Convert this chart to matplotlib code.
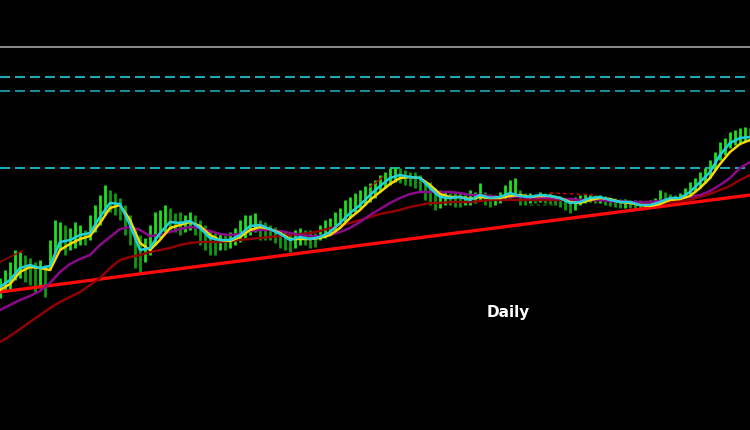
import matplotlib
matplotlib.use("Agg")
import matplotlib.pyplot as plt
import numpy as np

# daily bars, one every 5 px of the original screenshot (bar index 0..150)
bar_high = [152, 160, 168, 180, 178, 175, 172, 168, 170, 165,
            190, 210, 208, 205, 202, 208, 205, 200, 215, 225,
            235, 245, 240, 237, 232, 225, 215, 200, 195, 192,
            205, 218, 220, 225, 222, 217, 218, 215, 218, 215,
            210, 205, 200, 198, 197, 195, 198, 202, 210, 215,
            215, 217, 210, 208, 205, 203, 200, 198, 195, 200,
            202, 200, 200, 197, 205, 210, 212, 218, 222, 230,
            233, 237, 240, 244, 247, 250, 255, 258, 262, 263,
            262, 260, 258, 258, 255, 250, 248, 242, 240, 238,
            237, 238, 237, 235, 240, 238, 247, 238, 236, 235,
            238, 245, 250, 252, 240, 237, 237, 236, 238, 237,
            237, 235, 234, 232, 232, 233, 235, 236, 235, 235,
            235, 234, 232, 232, 231, 231, 230, 230, 230, 229,
            230, 232, 240, 238, 236, 235, 237, 242, 248, 252,
            258, 262, 270, 278, 288, 292, 298, 300, 302, 303,
            302]
bar_low = [132, 138, 140, 150, 152, 148, 145, 138, 142, 133,
           160, 178, 180, 175, 180, 182, 185, 185, 190, 198,
           205, 215, 218, 215, 210, 195, 185, 162, 157, 168,
           175, 185, 192, 198, 200, 198, 195, 198, 200, 195,
           185, 180, 175, 175, 180, 180, 182, 185, 188, 192,
           195, 198, 190, 190, 190, 187, 182, 180, 178, 182,
           185, 185, 182, 183, 190, 192, 195, 198, 202, 208,
           212, 218, 222, 225, 228, 232, 238, 242, 245, 248,
           247, 245, 244, 242, 238, 230, 225, 220, 222, 225,
           225, 223, 223, 225, 225, 227, 230, 225, 223, 225,
           227, 230, 232, 235, 225, 225, 227, 227, 228, 227,
           226, 225, 223, 220, 217, 220, 225, 227, 228, 227,
           227, 225, 224, 223, 222, 222, 222, 221, 220, 221,
           222, 224, 228, 228, 229, 229, 230, 232, 235, 238,
           242, 247, 252, 260, 270, 275, 282, 285, 287, 288,
           288]

# moving averages, sampled every 2 bars
ma_fast = [143, 150, 162, 165, 162, 164, 188, 190, 195, 197,
           213, 227, 226, 205, 180, 182, 197, 208, 207, 209,
           202, 192, 190, 190, 195, 204, 205, 201, 196, 190,
           193, 191, 193, 198, 207, 217, 225, 235, 244, 252,
           255, 253, 252, 242, 233, 232, 233, 230, 235, 232,
           233, 237, 234, 233, 235, 234, 232, 227, 228, 232,
           233, 230, 228, 228, 225, 225, 228, 232, 232, 238,
           248, 258, 275, 287, 292, 293]
ma_slow = [140, 146, 158, 163, 162, 160, 180, 186, 191, 194,
           207, 222, 225, 210, 187, 180, 190, 202, 205, 208,
           204, 195, 190, 189, 193, 200, 203, 201, 197, 191,
           191, 191, 192, 195, 202, 212, 220, 230, 238, 246,
           252, 253, 252, 245, 236, 233, 233, 231, 233, 232,
           232, 234, 235, 233, 234, 234, 232, 228, 227, 230,
           232, 231, 228, 227, 225, 224, 226, 230, 231, 234,
           242, 252, 266, 278, 286, 290]
ma_50 = [120, 125, 130, 134, 139, 147, 158, 166, 171, 175,
         185, 193, 201, 203, 200, 194, 195, 198, 201, 203,
         202, 199, 196, 195, 196, 199, 200, 200, 199, 197,
         195, 194, 194, 195, 198, 202, 208, 215, 221, 227,
         232, 236, 238, 238, 238, 238, 237, 235, 235, 234,
         233, 233, 233, 232, 232, 232, 231, 231, 230, 230,
         230, 229, 229, 228, 228, 228, 229, 231, 232, 233,
         235, 239, 245, 252, 262, 268]
ma_200 = [88, 94, 101, 108, 115, 122, 128, 133, 138, 145,
          152, 162, 170, 173, 175, 178, 180, 182, 185, 187,
          188, 188, 188, 189, 190, 191, 192, 193, 194, 195,
          196, 197, 199, 202, 204, 207, 210, 213, 216, 218,
          220, 223, 225, 227, 227, 228, 228, 228, 229, 230,
          230, 230, 230, 230, 230, 230, 230, 230, 230, 230,
          230, 229, 228, 227, 227, 227, 227, 228, 229, 230,
          233, 236, 240, 244, 250, 255]

# support trendline and horizontal levels
trend_x = [0, 150]
trend_y = [138, 235]
level_solid = 383
levels_dashed = [353, 339, 262]

# stray envelope pieces
env_red_x = [[0, 4.4], [74, 76.6]]
env_red_y = [[168, 179], [243, 253]]
env_dot_x = [110, 119.4]
env_dot_y = [237, 235]
env_green_x = [106, 110.6]
env_green_y = [225, 225]

fig = plt.figure(figsize=(7.5, 4.3), dpi=100, facecolor="black")
ax = fig.add_axes([0, 0, 1, 1])
ax.set_facecolor("black")

ax.axhline(level_solid, color="#8c8c8c", lw=1.4)
dash_colors = ["#19aab8", "#168c92", "#19aab8"]
for lev, c in zip(levels_dashed, dash_colors):
    ax.axhline(lev, color=c, lw=1.5, dashes=(4.8, 2.4))

bx = np.arange(len(bar_high))
mid = (np.array(bar_high) + np.array(bar_low)) / 2
up = np.r_[True, np.diff(mid) >= 0]
ax.vlines(bx[up], np.array(bar_low)[up], np.array(bar_high)[up],
          color="#1fe01f", lw=2.0)
ax.vlines(bx[~up], np.array(bar_low)[~up], np.array(bar_high)[~up],
          color="#0f9a0f", lw=2.0)

for xs, ys in zip(env_red_x, env_red_y):
    ax.plot(xs, ys, color="#b00000", lw=1)
ax.plot(env_dot_x, env_dot_y, color="#c00000", lw=1.2, ls=(0, (2, 2)))
ax.plot(env_green_x, env_green_y, color="#0a5a0a", lw=1.2, ls=(0, (2, 2)))

ax.plot(trend_x, trend_y, color="#ff0a0a", lw=2.4, solid_capstyle="butt")

mx = np.arange(len(ma_fast)) * 2
ax.plot(mx, ma_200, color="#960000", lw=1.7)
ax.plot(mx, ma_50, color="#8a0a8a", lw=1.8)
ax.plot(mx, ma_slow, color="#ffd700", lw=1.8)
ax.plot(mx, ma_fast, color="#22d0e0", lw=1.8)

ax.text(101.6, 117, "Daily", color="white", fontsize=11, fontweight="bold",
        family="DejaVu Sans", ha="center", va="center")

ax.set_xlim(0, 150)
ax.set_ylim(0, 430)
ax.axis("off")

fig.savefig("out.png", dpi=100, facecolor="black")
